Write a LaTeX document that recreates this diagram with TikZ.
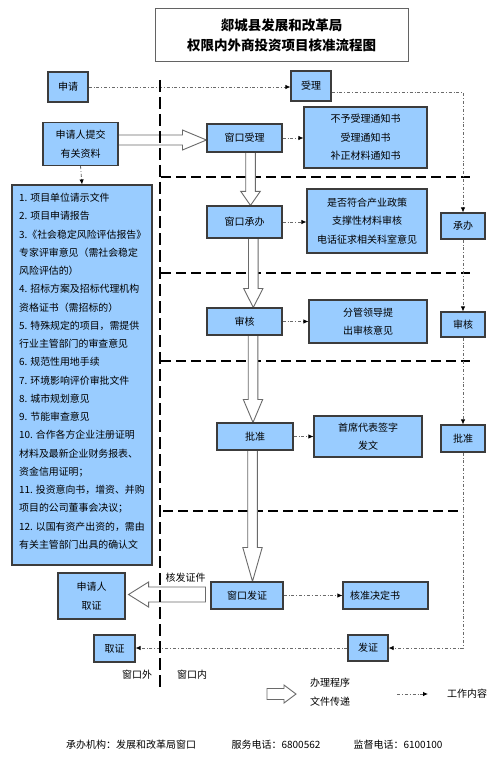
\documentclass[tikz,border=0pt]{standalone}
\usepackage{fontspec}
\setmainfont{Noto Sans CJK SC}
\usetikzlibrary{arrows.meta,calc}
\pgfdeclarelayer{bg}
\pgfsetlayers{bg,main}
\definecolor{boxblue}{HTML}{99CCFF}
\definecolor{boxline}{HTML}{3C3C3C}
\definecolor{arrline}{HTML}{6A6A6A}
\definecolor{dotline}{HTML}{6A6A6A}
\newcommand{\vblock}[4]{\draw[blockarrow] ($(#3|-#1.south)+(-4.8,0)$) -- ($(#3|-#2.north)+(-4.8,-#4)$) -- ($(#3|-#2.north)+(-9.7,-#4)$) -- (#3|-#2.north) -- ($(#3|-#2.north)+(9.7,-#4)$) -- ($(#3|-#2.north)+(4.8,-#4)$) -- ($(#3|-#1.south)+(4.8,0)$);}
\begin{document}
\begin{tikzpicture}[x=1pt,y=-1pt,
 box/.style={draw=boxline,fill=boxblue,line width=1.1pt,inner sep=0pt,align=center,font=\fontsize{10}{18.5}\selectfont},
 blockarrow/.style={draw=arrline,fill=white,line width=0.9pt,line join=miter},
 work/.style={draw=dotline,line width=0.8pt,dash pattern=on 3pt off 2pt on 0.8pt off 2pt,-{Latex[black,length=5pt,width=4.5pt]}},
 sep/.style={draw=black,line width=2.2pt,dash pattern=on 10pt off 5pt},
 lbl/.style={inner sep=0pt,font=\fontsize{10}{12}\selectfont}]
\useasboundingbox (0,0) rectangle (500,767);
% title
\node[draw=boxline!80,line width=1pt,minimum width=253pt,minimum height=53pt,inner sep=0pt,align=center,font=\fontsize{13.5}{20}\selectfont\bfseries] (title) at (281.5,35.5) {郯城县发展和改革局\\权限内外商投资项目核准流程图};
% boxes
\node[box,minimum width=40pt,minimum height=30pt] (shenqing) at (68,87) {申请};
\node[box,minimum width=40pt,minimum height=30pt] (shouli) at (311,86) {受理};
\node[box,minimum width=75pt,minimum height=43pt] (tijiao) at (80.5,144) {申请人提交\\有关资料};
\node[box,minimum width=140pt,minimum height=380pt] (list) at (82,375) {};
\node[inner sep=0pt,align=left,anchor=north west,font=\fontsize{9.9}{18.25}\selectfont] (listtext) at (19,193) {1. 项目单位请示文件\\2. 项目申请报告\\3.《社会稳定风险评估报告》\\专家评审意见（需社会稳定\\风险评估的）\\4. 招标方案及招标代理机构\\资格证书（需招标的）\\5. 特殊规定的项目，需提供\\行业主管部门的审查意见\\6. 规范性用地手续\\7. 环境影响评价审批文件\\8. 城市规划意见\\9. 节能审查意见\\10. 合作各方企业注册证明\\材料及最新企业财务报表、\\资金信用证明；\\11. 投资意向书，增资、并购\\项目的公司董事会决议；\\12. 以国有资产出资的，需由\\有关主管部门出具的确认文};
\node[box,minimum width=75pt,minimum height=28pt] (wsl) at (244.5,138) {窗口受理};
\node[box,minimum width=123pt,minimum height=61pt] (notice) at (365.5,137.5) {不予受理通知书\\受理通知书\\补正材料通知书};
\node[box,minimum width=75pt,minimum height=32pt] (wcb) at (244.5,222) {窗口承办};
\node[box,minimum width=120pt,minimum height=64pt] (check) at (367,221) {是否符合产业政策\\支撑性材料审核\\电话征求相关科室意见};
\node[box,minimum width=44pt,minimum height=26pt] (rcb) at (463,226) {承办};
\node[box,minimum width=75pt,minimum height=27pt] (wsh) at (244.5,321.5) {审核};
\node[box,minimum width=118pt,minimum height=43pt] (lead) at (368,321.5) {分管领导提\\出审核意见};
\node[box,minimum width=44pt,minimum height=25pt] (rsh) at (463,324.5) {审核};
\node[box,minimum width=76pt,minimum height=27pt] (wpz) at (255,436.5) {批准};
\node[box,minimum width=108pt,minimum height=41pt] (sign) at (368,436.5) {首席代表签字\\发文};
\node[box,minimum width=44pt,minimum height=27pt] (rpz) at (463,438.5) {批准};
\node[box,minimum width=72pt,minimum height=27pt] (wfz) at (247,595.5) {窗口发证};
\node[box,minimum width=85pt,minimum height=27pt,text width=71pt,align=left] (decision) at (385.5,595.5) {核准决定书};
\node[box,minimum width=67pt,minimum height=46pt] (quzheng1) at (91.5,596) {申请人\\取证};
\node[box,minimum width=41pt,minimum height=27pt] (quzheng) at (114.5,648.5) {取证};
\node[box,minimum width=40pt,minimum height=26pt] (fazheng) at (368,648) {发证};
% coordinates
\coordinate (ax1) at (250.5,0);
\coordinate (ax2) at (253.3,0);
\coordinate (ax3) at (253,0);
\coordinate (ax4) at (252.5,0);
\coordinate (ay1) at (0,140);
\coordinate (ay2) at (0,594.5);
\coordinate (s1a) at (161,177); \coordinate (s1b) at (470,177);
\coordinate (s2a) at (161,273); \coordinate (s2b) at (470,273);
\coordinate (s3a) at (161,361); \coordinate (s3b) at (470,361);
\coordinate (s4a) at (163,511); \coordinate (s4b) at (463,511);
\coordinate (vtop) at (160,80); \coordinate (vbot) at (160,687);
\coordinate (lg1) at (267,694);
\coordinate (lgA) at (397,694); \coordinate (lgB) at (428,694);
\begin{pgfonlayer}{bg}
\fill[white] (0,0) rectangle (500,767);
\draw[sep] (s1a) -- (s1b);
\draw[sep] (s2a) -- (s2b);
\draw[sep] (s3a) -- (s3b);
\draw[sep] (s4a) -- (s4b);
\vblock{wsl}{wcb}{ax1}{14}
\vblock{wcb}{wsh}{ax2}{19}
\vblock{wsh}{wpz}{ax3}{23}
\vblock{wpz}{wfz}{ax4}{34}
\draw[blockarrow] ($(tijiao.east|-ay1)+(0,-5)$) -- ($(wsl.west|-ay1)+(-24,-5)$) -- ($(wsl.west|-ay1)+(-24,-10)$) -- (wsl.west|-ay1) -- ($(wsl.west|-ay1)+(-24,10)$) -- ($(wsl.west|-ay1)+(-24,5)$) -- ($(tijiao.east|-ay1)+(0,5)$);
\draw[blockarrow] ($(wfz.west|-ay2)+(-5,-7.5)$) -- ($(quzheng1.east|-ay2)+(23,-7.5)$) -- ($(quzheng1.east|-ay2)+(23,-12.5)$) -- ($(quzheng1.east|-ay2)+(3,0)$) -- ($(quzheng1.east|-ay2)+(23,12.5)$) -- ($(quzheng1.east|-ay2)+(23,7.5)$) -- ($(wfz.west|-ay2)+(-5,7.5)$) -- cycle;
\end{pgfonlayer}
% work connectors
\draw[work] (shenqing.east) -- (shenqing.east -| shouli.west);
\draw[work] ($(shouli.east)+(0,6)$) -| (rcb.north);
\draw[work] (rcb.south) -- (rsh.north);
\draw[work] (rsh.south) -- (rpz.north);
\draw[work] (rpz.south) |- (fazheng.east);
\draw[work] (fazheng.west) -- (fazheng.west -| quzheng.east);
\draw[work] (tijiao.south) -- (list.north);
\draw[work] (wsl.east) -- (wsl.east -| notice.west);
\draw[work] (wcb.east) -- (wcb.east -| check.west);
\draw[work] (wsh.east) -- (wsh.east -| lead.west);
\draw[work] (wpz.east) -- (wpz.east -| sign.west);
\draw[work] (wfz.east) -- (wfz.east -| decision.west);
% main window separator
\draw[draw=black,line width=2.5pt,dash pattern=on 12pt off 5pt] (vtop) -- (vbot);
% labels
\node[lbl] (kfzj) at (185.5,578) {核发证件};
\node[lbl] (wkw) at (137,675) {窗口外};
\node[lbl] (wkn) at (192,675) {窗口内};
% legend
\draw[blockarrow,shift={(lg1)}] (0,-5.5) -- (17,-5.5) -- (17,-9) -- (29,0) -- (17,9) -- (17,5.5) -- (0,5.5) -- cycle;
\node[lbl,align=center,font=\fontsize{10}{19}\selectfont] (lg1t) at (330,692.5) {办理程序\\文件传递};
\draw[work] (lgA) -- (lgB);
\node[lbl] (lg2t) at (467,694) {工作内容};
% footer
\node[lbl] (f1) at (131,745) {承办机构：发展和改革局窗口};
\node[lbl] (f2) at (276,745) {服务电话：6800562};
\node[lbl] (f3) at (398,745) {监督电话：6100100};
\end{tikzpicture}
\end{document}
